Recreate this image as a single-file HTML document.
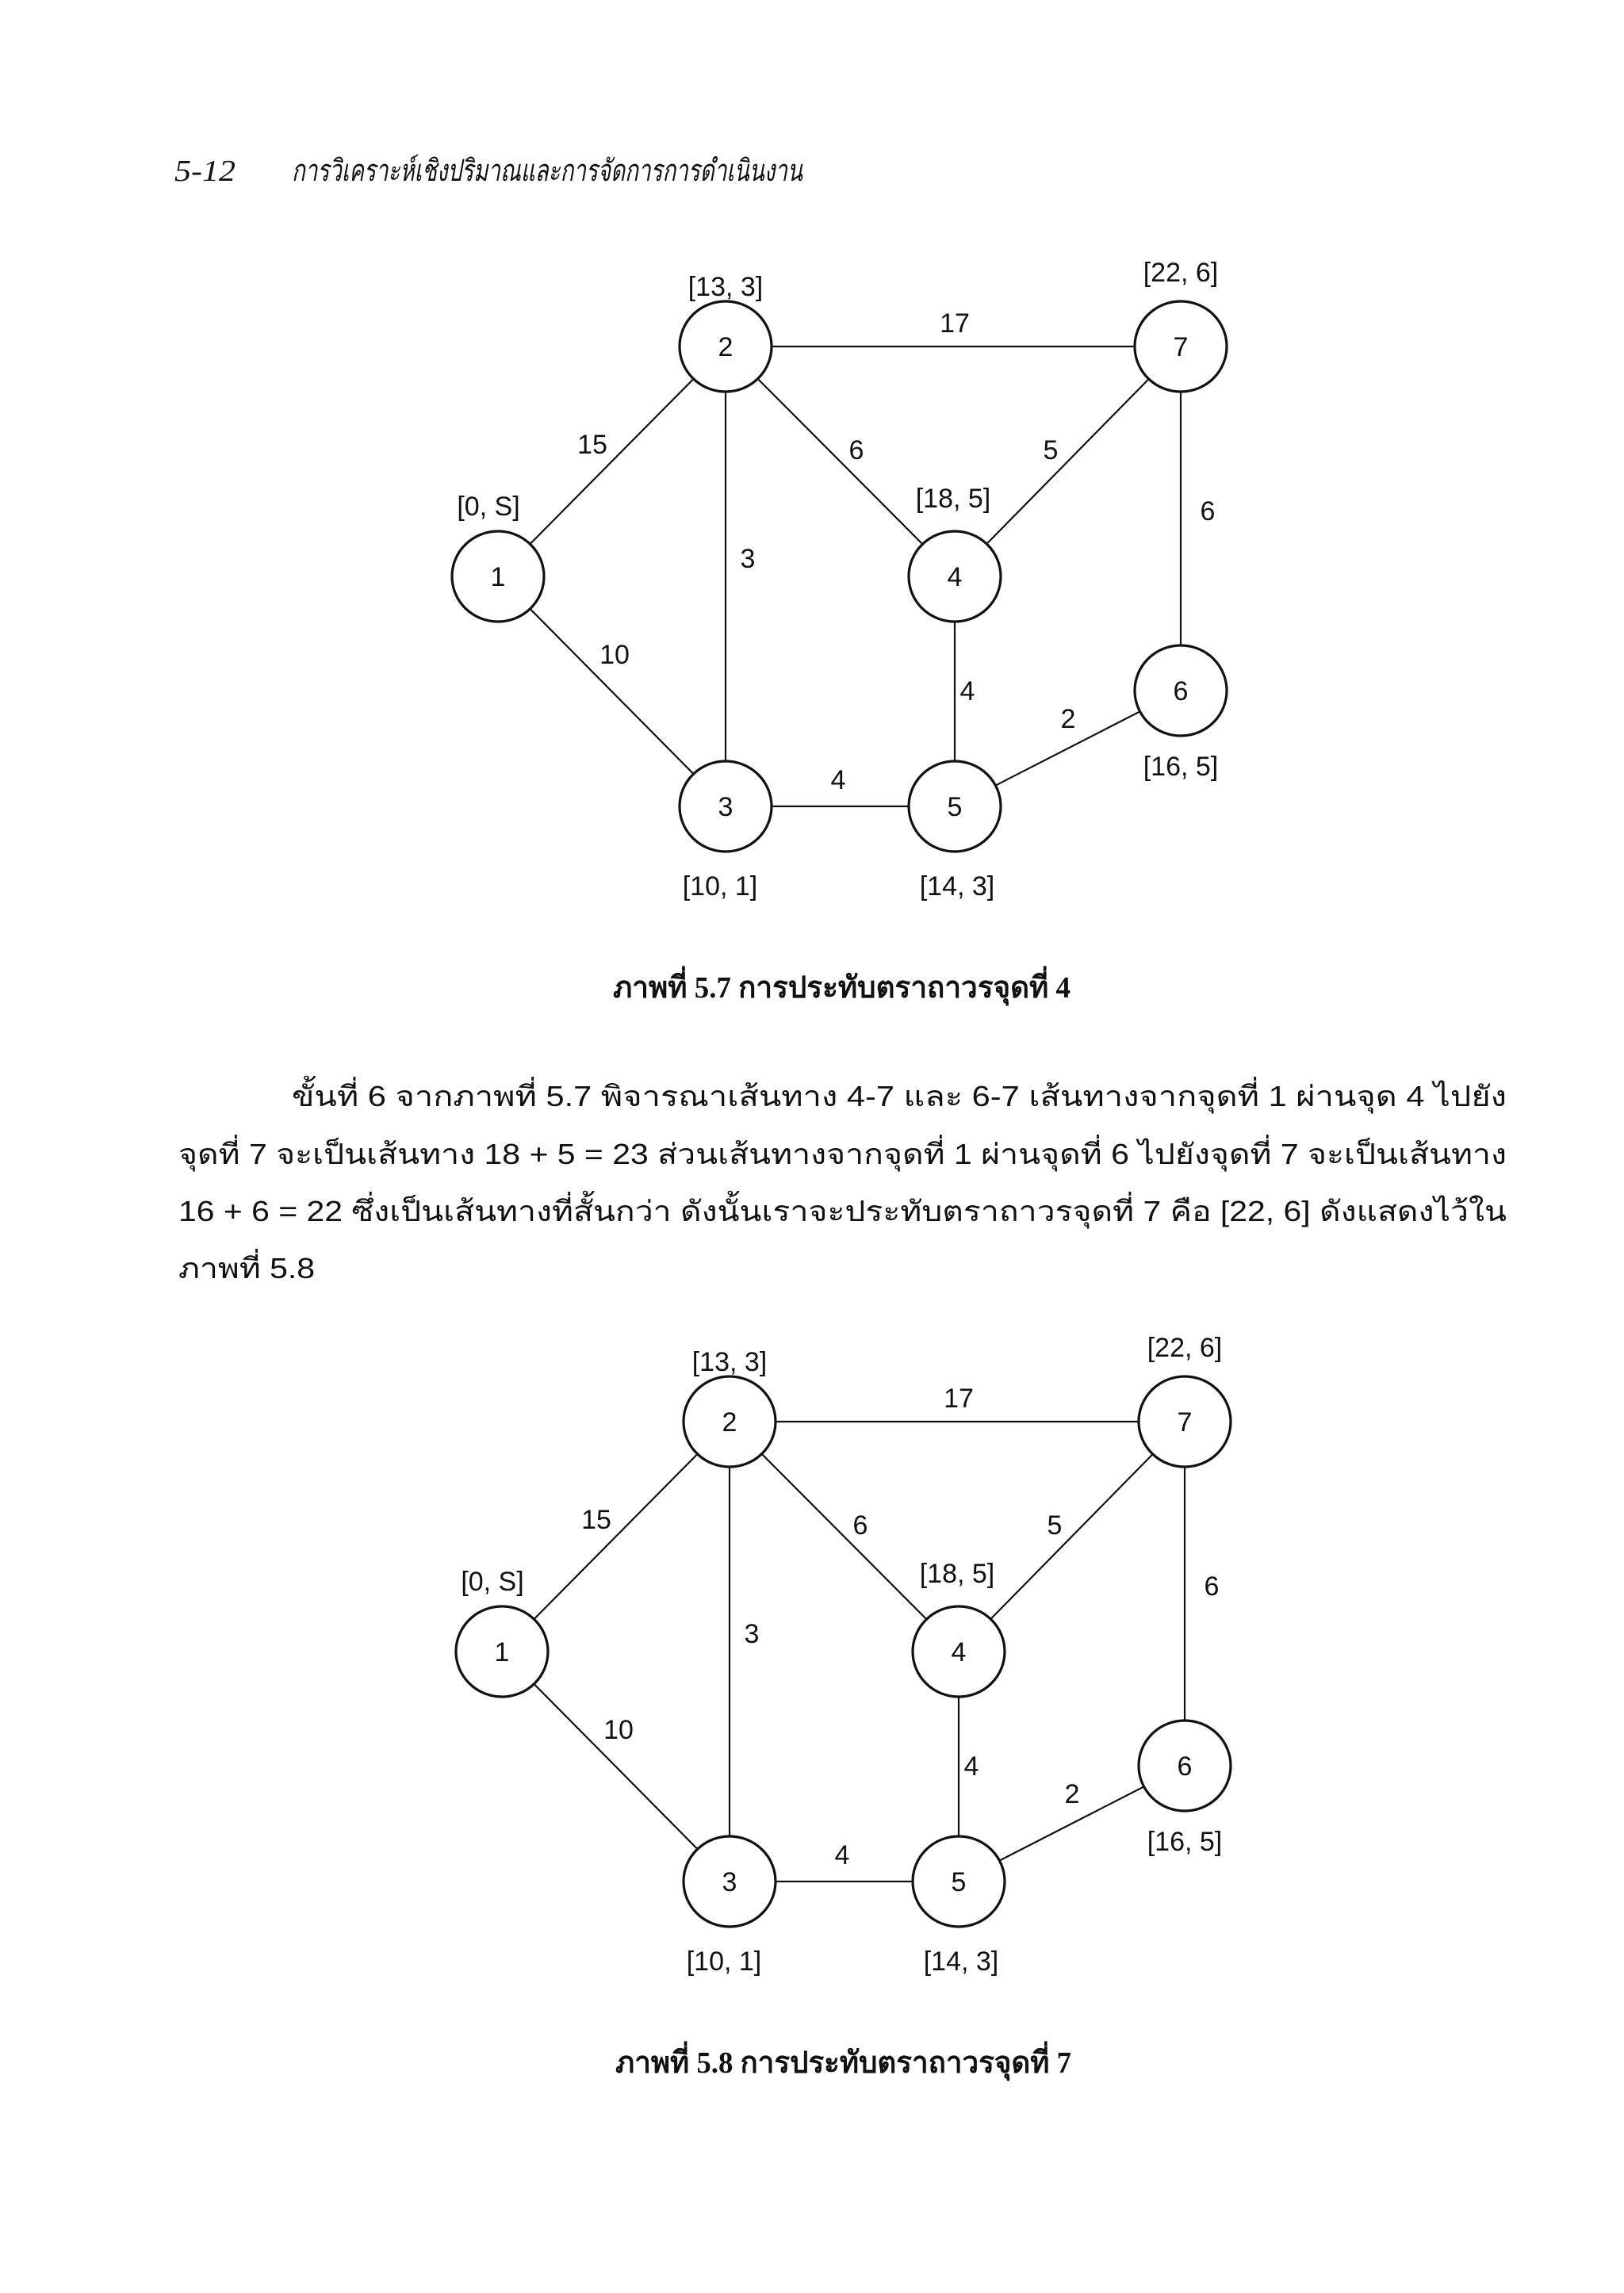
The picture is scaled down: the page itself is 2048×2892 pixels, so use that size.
<!DOCTYPE html>
<html><head><meta charset="utf-8"><style>html,body{margin:0;padding:0;background:#fff}svg{display:block}</style></head>
<body>
<svg width="2048" height="2892" viewBox="0 0 2048 2892" xmlns="http://www.w3.org/2000/svg">
<rect width="2048" height="2892" fill="#fff"/>
<g font-family="'Liberation Serif', serif" font-style="italic" font-size="38" fill="#111">
<text x="220" y="228" textLength="77" lengthAdjust="spacingAndGlyphs">5-12</text>
<text x="368" y="228" textLength="644" lengthAdjust="spacingAndGlyphs">การวิเคราะห์เชิงปริมาณและการจัดการการดำเนินงาน</text>
</g>

<defs>
<g id="graph">
<g stroke="#111" stroke-width="2.2" fill="none">
<line x1="633" y1="0" x2="920" y2="-290"/>
<line x1="633" y1="0" x2="920" y2="290"/>
<line x1="920" y1="-290" x2="920" y2="290"/>
<line x1="920" y1="-290" x2="1494" y2="-290"/>
<line x1="920" y1="-290" x2="1209" y2="0"/>
<line x1="1209" y1="0" x2="1494" y2="-290"/>
<line x1="1209" y1="0" x2="1209" y2="290"/>
<line x1="920" y1="290" x2="1209" y2="290"/>
<line x1="1209" y1="290" x2="1494" y2="144"/>
<line x1="1494" y1="-290" x2="1494" y2="144"/>
</g>
<g stroke="#111" stroke-width="3.2" fill="#fff">
<ellipse cx="633" cy="0" rx="58" ry="57"/>
<ellipse cx="920" cy="-290" rx="58" ry="57"/>
<ellipse cx="920" cy="290" rx="58" ry="57"/>
<ellipse cx="1209" cy="0" rx="58" ry="57"/>
<ellipse cx="1209" cy="290" rx="58" ry="57"/>
<ellipse cx="1494" cy="144" rx="58" ry="57"/>
<ellipse cx="1494" cy="-290" rx="58" ry="57"/>
</g>
<g font-family="'Liberation Sans', sans-serif" font-size="34" fill="#111" text-anchor="middle">
<text x="633" y="12">1</text>
<text x="920" y="-278">2</text>
<text x="920" y="302">3</text>
<text x="1209" y="12">4</text>
<text x="1209" y="302">5</text>
<text x="1494" y="156">6</text>
<text x="1494" y="-278">7</text>
<text x="621" y="-77">[0, S]</text>
<text x="920" y="-354">[13, 3]</text>
<text x="1494" y="-372">[22, 6]</text>
<text x="1207" y="-87">[18, 5]</text>
<text x="1494" y="251">[16, 5]</text>
<text x="913" y="402">[10, 1]</text>
<text x="1212" y="402">[14, 3]</text>
<text x="1209" y="-308">17</text>
<text x="752" y="-155">15</text>
<text x="1085" y="-148">6</text>
<text x="1330" y="-148">5</text>
<text x="948" y="-11">3</text>
<text x="1528" y="-71">6</text>
<text x="780" y="110">10</text>
<text x="1225" y="156">4</text>
<text x="1352" y="191">2</text>
<text x="1062" y="268">4</text>
</g>
</g>
</defs>

<use href="#graph" transform="translate(-5,727)"/>
<use href="#graph" transform="translate(0,2083)"/>

<g font-family="'Liberation Serif', serif" font-weight="bold" font-size="38" fill="#111">
<text x="773" y="1258" textLength="577" lengthAdjust="spacingAndGlyphs">ภาพที่ 5.7 การประทับตราถาวรจุดที่ 4</text>
<text x="776" y="2614" textLength="575" lengthAdjust="spacingAndGlyphs">ภาพที่ 5.8 การประทับตราถาวรจุดที่ 7</text>
</g>

<g font-family="'Liberation Sans', sans-serif" font-size="36" fill="#111">
<text x="368" y="1395" textLength="1532" lengthAdjust="spacingAndGlyphs">ขั้นที่ 6 จากภาพที่ 5.7 พิจารณาเส้นทาง 4-7 และ 6-7 เส้นทางจากจุดที่ 1 ผ่านจุด 4 ไปยัง</text>
<text x="225" y="1468" textLength="1675" lengthAdjust="spacingAndGlyphs">จุดที่ 7 จะเป็นเส้นทาง 18 + 5 = 23 ส่วนเส้นทางจากจุดที่ 1 ผ่านจุดที่ 6 ไปยังจุดที่ 7 จะเป็นเส้นทาง</text>
<text x="225" y="1540" textLength="1675" lengthAdjust="spacingAndGlyphs">16 + 6 = 22 ซึ่งเป็นเส้นทางที่สั้นกว่า ดังนั้นเราจะประทับตราถาวรจุดที่ 7 คือ [22, 6] ดังแสดงไว้ใน</text>
<text x="225" y="1612" textLength="172" lengthAdjust="spacingAndGlyphs">ภาพที่ 5.8</text>
</g>
</svg>
</body></html>
